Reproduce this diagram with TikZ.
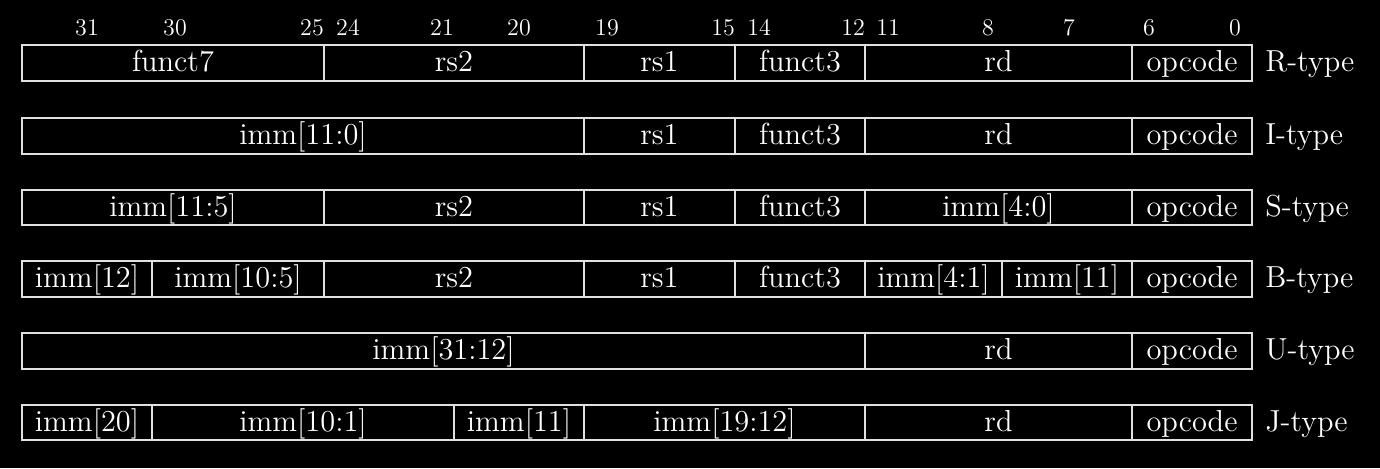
\documentclass[tikz,border=0pt]{standalone}
\usepackage{amsmath}
\usepackage{fontspec}
\usepackage{tikz}

\newfontfamily\fieldfont{lmroman12-regular.otf}

\tikzset{
  cell/.style={draw=white!88!black, line width=0.6pt},
  field/.style={text=white, font=\fieldfont\fontsize{15.2}{18}\selectfont, anchor=base, inner sep=0pt},
  bitno/.style={text=white, font=\fontsize{12}{14}\selectfont, anchor=base, inner sep=0pt},
  kind/.style={text=white, font=\fieldfont\fontsize{15.2}{18}\selectfont, anchor=base west, inner sep=0pt}
}

\begin{document}
\begin{tikzpicture}[x=0.5pt,y=-0.5pt]
\fill[black] (0,0) rectangle (1380,468);
\useasboundingbox (0,0) rectangle (1380,468);
% bit numbers
\node[bitno] (b31) at (87,35) {31};
\node[bitno] (b30) at (175,35) {30};
\node[bitno] (b25) at (312,35) {25};
\node[bitno] (b24) at (348,35) {24};
\node[bitno] (b21) at (442,35) {21};
\node[bitno] (b20) at (519,35) {20};
\node[bitno] (b19) at (607,35) {19};
\node[bitno] (b15) at (723,35) {15};
\node[bitno] (b14) at (759,35) {14};
\node[bitno] (b12) at (853,35) {12};
\node[bitno] (b11) at (888,35) {11};
\node[bitno] (b8) at (988,35) {8};
\node[bitno] (b7) at (1069,35) {7};
\node[bitno] (b6) at (1149,35) {6};
\node[bitno] (b0) at (1235,35) {0};
% R-type
\draw[cell] (22,45) rectangle (324,81);
\draw[cell] (324,45) rectangle (584,81);
\draw[cell] (584,45) rectangle (735,81);
\draw[cell] (735,45) rectangle (865,81);
\draw[cell] (865,45) rectangle (1132,81);
\draw[cell] (1132,45) rectangle (1252,81);
\node[field] (rfunct7) at (173,71.5) {funct7};
\node[field] (rrs2) at (454,71.5) {rs2};
\node[field] (rrs1) at (659.5,71.5) {rs1};
\node[field] (rfunct3) at (800,71.5) {funct3};
\node[field] (rrd) at (998.5,71.5) {rd};
\node[field] (ropcode) at (1192,71.5) {opcode};
\node[kind] (rtype) at (1265,71.5) {R-type};
% I-type
\draw[cell] (22,118) rectangle (584,154);
\draw[cell] (584,118) rectangle (735,154);
\draw[cell] (735,118) rectangle (865,154);
\draw[cell] (865,118) rectangle (1132,154);
\draw[cell] (1132,118) rectangle (1252,154);
\node[field] (iimm) at (303,144.5) {imm[11:0]};
\node[field] (irs1) at (659.5,144.5) {rs1};
\node[field] (ifunct3) at (800,144.5) {funct3};
\node[field] (ird) at (998.5,144.5) {rd};
\node[field] (iopcode) at (1192,144.5) {opcode};
\node[kind] (itype) at (1265,144.5) {I-type};
% S-type
\draw[cell] (22,190) rectangle (324,225);
\draw[cell] (324,190) rectangle (584,225);
\draw[cell] (584,190) rectangle (735,225);
\draw[cell] (735,190) rectangle (865,225);
\draw[cell] (865,190) rectangle (1132,225);
\draw[cell] (1132,190) rectangle (1252,225);
\node[field] (simmhi) at (173,216) {imm[11:5]};
\node[field] (srs2) at (454,216) {rs2};
\node[field] (srs1) at (659.5,216) {rs1};
\node[field] (sfunct3) at (800,216) {funct3};
\node[field] (simmlo) at (998.5,216) {imm[4:0]};
\node[field] (sopcode) at (1192,216) {opcode};
\node[kind] (stype) at (1265,216) {S-type};
% B-type
\draw[cell] (22,261) rectangle (152,297);
\draw[cell] (152,261) rectangle (324,297);
\draw[cell] (324,261) rectangle (584,297);
\draw[cell] (584,261) rectangle (735,297);
\draw[cell] (735,261) rectangle (865,297);
\draw[cell] (865,261) rectangle (1002,297);
\draw[cell] (1002,261) rectangle (1132,297);
\draw[cell] (1132,261) rectangle (1252,297);
\node[field] (bimmtop) at (87,287.5) {imm[12]};
\node[field] (bimmhi) at (238,287.5) {imm[10:5]};
\node[field] (brs2) at (454,287.5) {rs2};
\node[field] (brs1) at (659.5,287.5) {rs1};
\node[field] (bfunct3) at (800,287.5) {funct3};
\node[field] (bimmlo) at (933.5,287.5) {imm[4:1]};
\node[field] (bimmbit) at (1067,287.5) {imm[11]};
\node[field] (bopcode) at (1192,287.5) {opcode};
\node[kind] (btype) at (1265,287.5) {B-type};
% U-type
\draw[cell] (22,333) rectangle (865,369);
\draw[cell] (865,333) rectangle (1132,369);
\draw[cell] (1132,333) rectangle (1252,369);
\node[field] (uimm) at (443.5,359.5) {imm[31:12]};
\node[field] (urd) at (998.5,359.5) {rd};
\node[field] (uopcode) at (1192,359.5) {opcode};
\node[kind] (utype) at (1265,359.5) {U-type};
% J-type
\draw[cell] (22,405) rectangle (152,440);
\draw[cell] (152,405) rectangle (454,440);
\draw[cell] (454,405) rectangle (584,440);
\draw[cell] (584,405) rectangle (865,440);
\draw[cell] (865,405) rectangle (1132,440);
\draw[cell] (1132,405) rectangle (1252,440);
\node[field] (jimmtop) at (87,431) {imm[20]};
\node[field] (jimmlo) at (303,431) {imm[10:1]};
\node[field] (jimmbit) at (519,431) {imm[11]};
\node[field] (jimmhi) at (724.5,431) {imm[19:12]};
\node[field] (jrd) at (998.5,431) {rd};
\node[field] (jopcode) at (1192,431) {opcode};
\node[kind] (jtype) at (1265,431) {J-type};
\end{tikzpicture}
\end{document}
